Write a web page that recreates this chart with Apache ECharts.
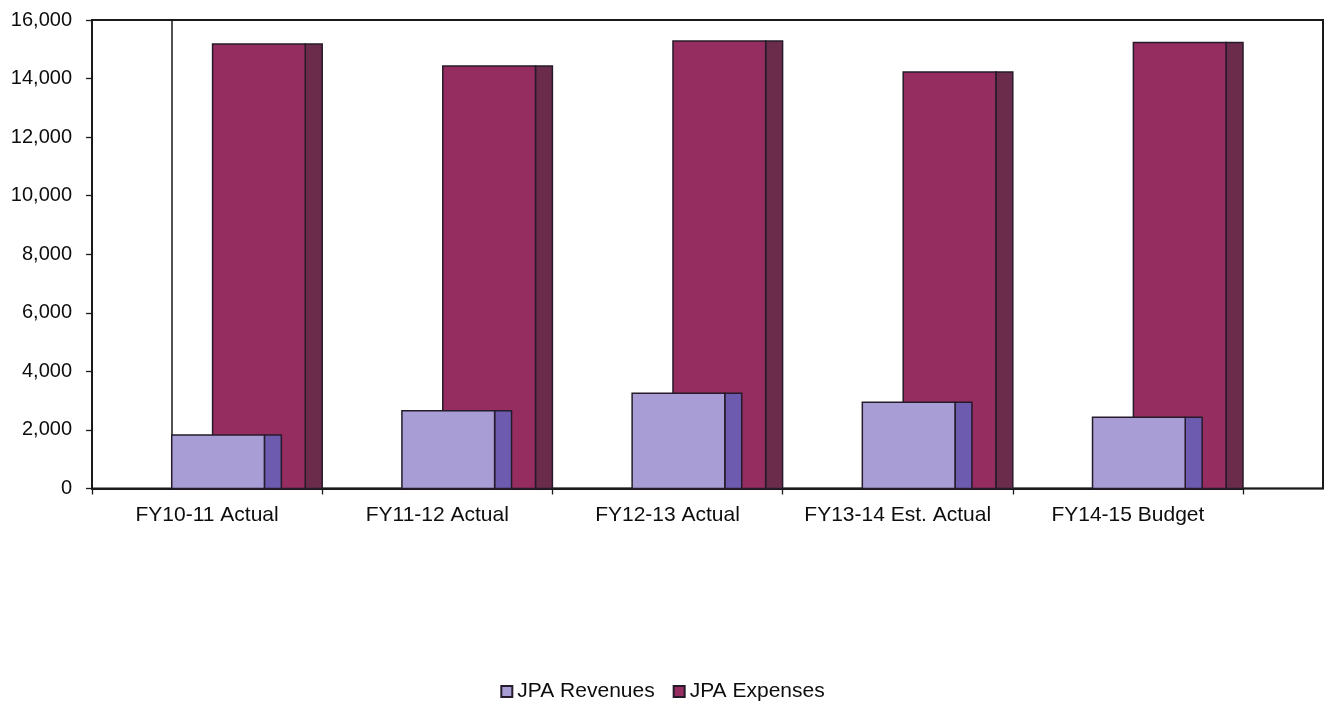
<!DOCTYPE html>
<html>
<head>
<meta charset="utf-8">
<title>JPA Revenues and Expenses</title>
<script src="https://cdn.jsdelivr.net/npm/echarts@6/dist/echarts.min.js"></script>
<style>
  html, body { margin: 0; padding: 0; background: #ffffff; }
  #chart { width: 1325px; height: 702px; }
</style>
</head>
<body>
<div id="chart"></div>
<script>
// Fiscal years shown on the category axis
const categories = ['FY10-11 Actual', 'FY11-12 Actual', 'FY12-13 Actual', 'FY13-14 Est. Actual', 'FY14-15 Budget'];
// JPA revenues and expenses per fiscal year
const revenues = [1827, 2657, 3250, 2945, 2430];
const expenses = [15180, 14430, 15280, 14225, 15230];
// Value axis scale
const yMin = 0;
const yMax = 16000;
const yStep = 2000;

const FONT = '"Liberation Sans", Arial, sans-serif';
const LINE = '#1a1a1a';
const TEXT = '#0d0d0d';

// Pseudo-3D column: a front face plus a darker side face.
// Offsets are fractions of the category band width.
function columnRenderer(frontStart, frontEnd, sideEnd, frontColor, sideColor) {
  return function (params, api) {
    const idx = api.value(0);
    const top = api.coord([idx, api.value(1)]);
    const base = api.coord([idx, 0]);
    const band = api.size([1, 0])[0];
    const start = top[0] - band / 2;
    const x0 = start + band * frontStart;
    const x1 = start + band * frontEnd;
    const x2 = start + band * sideEnd;
    const h = base[1] - top[1];
    const stroke = { stroke: '#261b2a', lineWidth: 1.5 };
    return {
      type: 'group',
      children: [
        { type: 'rect', shape: { x: x1, y: top[1], width: x2 - x1, height: h },
          style: Object.assign({ fill: sideColor }, stroke) },
        { type: 'rect', shape: { x: x0, y: top[1], width: x1 - x0, height: h },
          style: Object.assign({ fill: frontColor }, stroke) }
      ]
    };
  };
}

const chart = echarts.init(document.getElementById('chart'), null, { renderer: 'canvas' });

chart.setOption({
  animation: false,
  backgroundColor: '#ffffff',
  textStyle: { fontFamily: FONT, color: TEXT },
  grid: [
    // data area
    { left: 92, top: 20, width: 1151, height: 468.5, show: false },
    // outer frame including depth
    { left: 92, top: 20, right: 2, height: 468.5, show: true, borderColor: LINE, borderWidth: 2, backgroundColor: 'transparent' },
    // back wall
    { left: 172, top: 20, right: 2, height: 468.5, show: true, borderColor: LINE, borderWidth: 1.5, backgroundColor: 'transparent' }
  ],
  xAxis: [
    {
      type: 'category', gridIndex: 0, data: categories, boundaryGap: true,
      axisLine: { show: true, lineStyle: { color: LINE, width: 2 } },
      axisTick: { show: true, length: 6, lineStyle: { color: LINE, width: 1.3 } },
      axisLabel: { color: TEXT, fontSize: 21, fontFamily: FONT, margin: 16, interval: 0 }
    },
    { type: 'value', gridIndex: 1, show: false },
    { type: 'value', gridIndex: 2, show: false }
  ],
  yAxis: [
    {
      type: 'value', gridIndex: 0, min: yMin, max: yMax, interval: yStep,
      axisLine: { show: true, lineStyle: { color: LINE, width: 2 } },
      axisTick: { show: true, length: 6, lineStyle: { color: LINE, width: 1.3 } },
      splitLine: { show: false },
      axisLabel: {
        color: TEXT, fontSize: 20, fontFamily: FONT, margin: 20,
        formatter: v => v.toLocaleString('en-US')
      }
    },
    { type: 'value', gridIndex: 1, show: false },
    { type: 'value', gridIndex: 2, show: false }
  ],
  legend: {
    top: 676,
    left: 'center',
    itemWidth: 11,
    itemHeight: 11,
    itemGap: 18,
    icon: 'rect',
    data: ['JPA Revenues', 'JPA Expenses'],
    textStyle: { fontSize: 21, fontFamily: FONT, color: TEXT }
  },
  series: [
    {
      name: 'JPA Expenses',
      type: 'custom',
      xAxisIndex: 0, yAxisIndex: 0,
      z: 2,
      itemStyle: { color: '#952d60', borderColor: '#261b2a', borderWidth: 1.5 },
      renderItem: columnRenderer(121 / 231, 214 / 231, 1, '#952d60', '#6a2c4a'),
      encode: { x: 0, y: 1 },
      data: expenses.map((v, i) => [i, v])
    },
    {
      name: 'JPA Revenues',
      type: 'custom',
      xAxisIndex: 0, yAxisIndex: 0,
      z: 3,
      itemStyle: { color: '#a99dd6', borderColor: '#261b2a', borderWidth: 1.5 },
      renderItem: columnRenderer(80 / 231, 173 / 231, 190 / 231, '#a99dd6', '#6d5bb0'),
      encode: { x: 0, y: 1 },
      data: revenues.map((v, i) => [i, v])
    }
  ]
});
</script>
</body>
</html>
